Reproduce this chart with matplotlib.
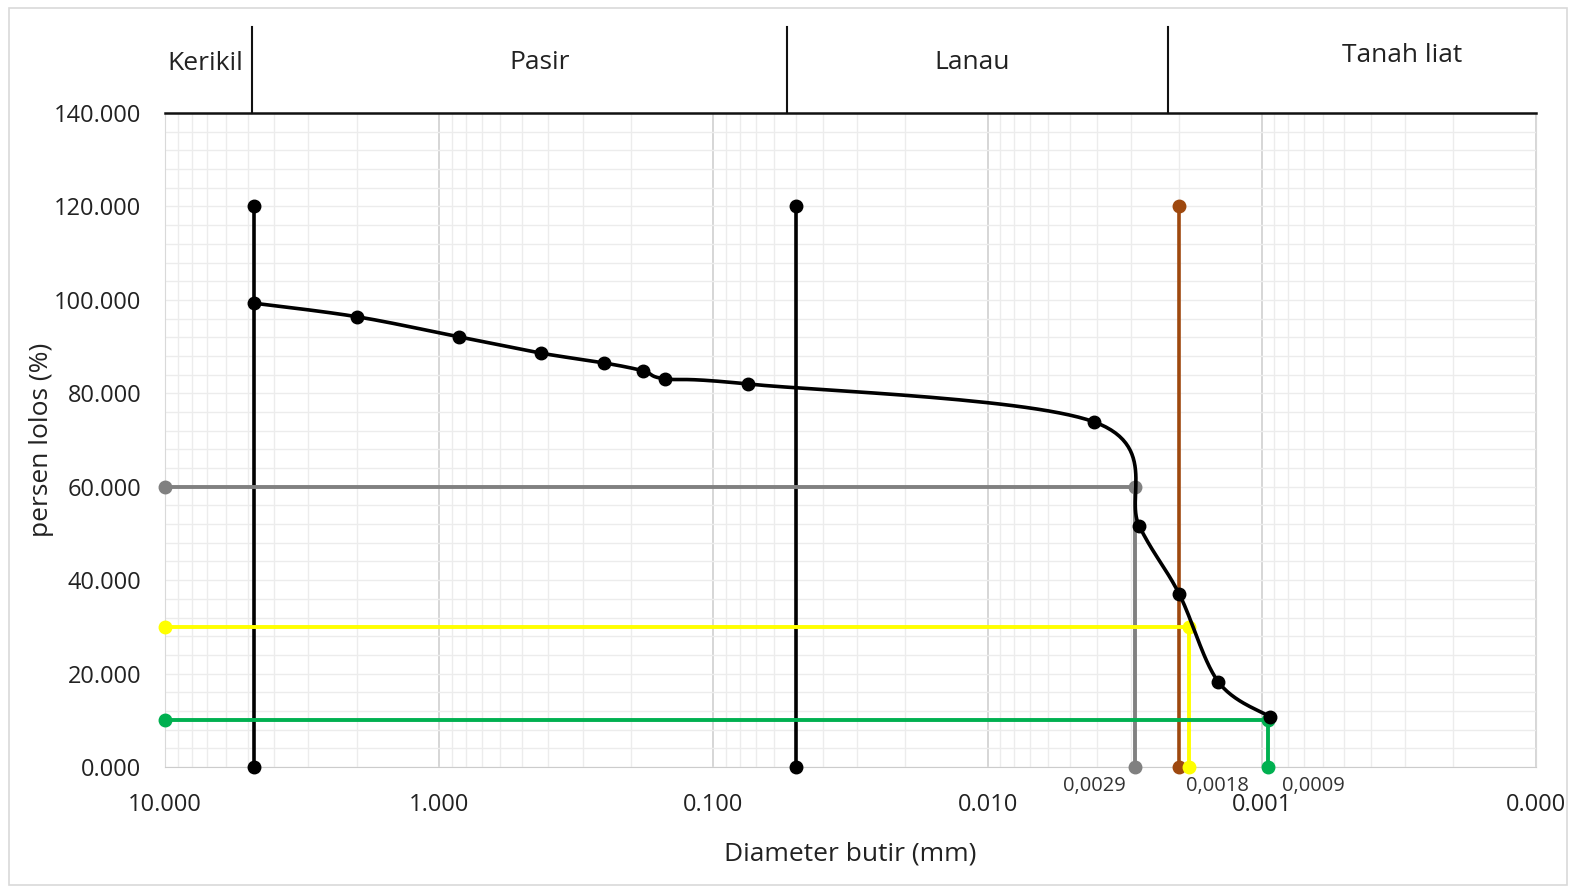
import matplotlib.pyplot as plt
import matplotlib.patches as patches
import numpy as np

plt.rcParams['font.family'] = ['Open Sans', 'DejaVu Sans']

# data hasil analisa saringan + hidrometer
diameter = [4.75, 2.0, 0.85, 0.425, 0.25, 0.18, 0.15, 0.075, 0.0041, 0.0028, 0.0020, 0.00144, 0.00093]
persen_lolos = [99.3, 96.4, 92.1, 88.6, 86.5, 84.8, 83.1, 82.0, 73.9, 51.6, 37.0, 18.2, 10.7]

# garis D60, D30, D10
d60, d30, d10 = 0.0029, 0.00185, 0.00095
p60, p30, p10 = 60, 30, 10
d_label = ['0,0029', '0,0018', '0,0009']

# batas klasifikasi tanah
batas_kerikil = 4.75
batas_pasir = 0.05
batas_lempung = 0.002
batas_atas = 120

zona = ['Kerikil', 'Pasir', 'Lanau', 'Tanah liat']
zona_x = [7.15, 0.43, 0.0114, 0.000307]
zona_y = [150.5, 150.9, 150.9, 152.3]
zona_batas = [4.8, 0.054, 0.0022]

x_ticks = [10, 1, 0.1, 0.01, 0.001, 0.0001]
x_ticklabels = ['10.000', '1.000', '0.100', '0.010', '0.001', '0.000']
y_ticks = [0, 20, 40, 60, 80, 100, 120, 140]


def smooth(xs, ys, n=30):
    # kurva halus ala Excel (Catmull-Rom di ruang tampilan)
    u = -np.log10(xs) * 274.3
    v = np.asarray(ys) * 4.67
    pts = np.column_stack([u, v])
    pts = np.vstack([pts[0], pts, pts[-1]])
    out = []
    for i in range(1, len(pts) - 2):
        p0, p1, p2, p3 = pts[i - 1], pts[i], pts[i + 1], pts[i + 2]
        t = np.linspace(0, 1, n)[:, None]
        c = 0.5 * ((2 * p1) + (-p0 + p2) * t + (2 * p0 - 5 * p1 + 4 * p2 - p3) * t ** 2
                   + (-p0 + 3 * p1 - 3 * p2 + p3) * t ** 3)
        out.append(c)
    out = np.vstack(out)
    return 10 ** (-out[:, 0] / 274.3), out[:, 1] / 4.67


fig = plt.figure(figsize=(15.73, 8.9), dpi=100)
ax = fig.add_axes([0.1049, 0.1382, 0.8716, 0.7348])
fig.patches.append(patches.Rectangle((0.006, 0.006), 0.99, 0.985, transform=fig.transFigure,
                                     fill=False, edgecolor='#d9d9d9', linewidth=1.2))

ax.set_xscale('log')
ax.set_xlim(10, 0.0001)
ax.set_ylim(0, 140)

# grid
ax.set_xticks(x_ticks)
ax.set_xticklabels(x_ticklabels)
ax.set_yticks(y_ticks)
ax.set_yticklabels([f'{v:.3f}' for v in y_ticks])
ax.set_yticks(np.arange(0, 141, 4), minor=True)
ax.grid(which='major', axis='x', color='#d0d0d0', linewidth=1.2)
ax.grid(which='minor', axis='x', color='#ececec', linewidth=1.0)
ax.grid(which='both', axis='y', color='#ececec', linewidth=1.0)
ax.set_axisbelow(True)
ax.tick_params(which='both', length=0)
ax.tick_params(axis='x', pad=19, labelsize=17, colors='#222222')
ax.tick_params(axis='y', pad=17, labelsize=17, colors='#222222')

for s in ['left', 'right']:
    ax.spines[s].set_color('#d9d9d9')
ax.spines['bottom'].set_color('#cccccc')
ax.spines['top'].set_color('#111111')
ax.spines['top'].set_linewidth(1.8)

# garis batas
for xb, col in [(batas_kerikil, 'black'), (batas_pasir, 'black'), (batas_lempung, '#9E480E')]:
    ax.plot([xb, xb], [0, batas_atas], color=col, lw=2.6, marker='o', ms=9, zorder=3, clip_on=False)

# D60, D30, D10
for d, p, col in [(d60, p60, '#808080'), (d30, p30, '#FFFF00'), (d10, p10, '#00B050')]:
    ax.plot([10, d, d], [p, p, 0], color=col, lw=2.8, marker='o', ms=9, zorder=4, clip_on=False)

# kurva gradasi
xs, ys = smooth(diameter, persen_lolos)
ax.plot(xs, ys, color='black', lw=2.6, zorder=5)
ax.plot(diameter, persen_lolos, 'o', color='black', ms=9, zorder=6)

# label D
for d, lab, dx in zip([d60, d30, d10], d_label, [-29, 21, 33]):
    ax.annotate(lab, (d, 0), xytext=(dx, -14), textcoords='offset points', ha='center',
                va='center', fontsize=14.5, color='#333333')

# header zona
for lab, x, y in zip(zona, zona_x, zona_y):
    ax.text(x, y, lab, ha='center', va='center', fontsize=19, color='#222222', clip_on=False)
for xb in zona_batas:
    ax.plot([xb, xb], [140, 158.5], color='#111111', lw=1.5, clip_on=False)

ax.set_xlabel('Diameter butir (mm)', fontsize=19, color='#222222', labelpad=17)
ax.set_ylabel('persen lolos (%)', fontsize=19, color='#222222', labelpad=0)

plt.savefig('out.png', dpi=100)
